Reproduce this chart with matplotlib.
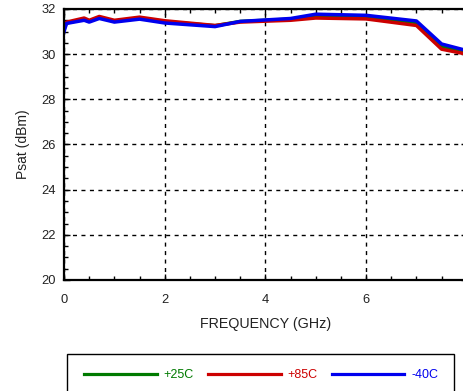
import matplotlib
matplotlib.use("Agg")
import matplotlib.pyplot as plt
from matplotlib.patches import Rectangle
from matplotlib.ticker import MultipleLocator

plt.rcParams['font.family'] = ['Liberation Sans', 'DejaVu Sans']

# === DATA ===
freq_ghz = [0.0, 0.05, 0.4, 0.5, 0.7, 1.0, 1.5, 2.0, 3.0, 3.5, 4.5, 5.0, 6.0, 7.0, 7.5, 8.0]
psat_25c = [31.12, 31.38, 31.55, 31.46, 31.62, 31.46, 31.6, 31.44, 31.26, 31.45, 31.55, 31.7, 31.66, 31.4, 30.35, 30.09]
psat_85c = [31.3, 31.42, 31.6, 31.5, 31.67, 31.5, 31.64, 31.48, 31.27, 31.42, 31.5, 31.6, 31.56, 31.27, 30.22, 30.0]
psat_m40c = [31.0, 31.36, 31.5, 31.42, 31.58, 31.42, 31.55, 31.38, 31.22, 31.45, 31.58, 31.77, 31.72, 31.47, 30.45, 30.16]

series = [("+25C", psat_25c, "#007a00"),
          ("+85C", psat_85c, "#cc0000"),
          ("-40C", psat_m40c, "#0000ee")]

# === Plot ===
fig = plt.figure(figsize=(4.64, 3.91), dpi=100)
ax = fig.add_axes([0.138, 0.284, 0.868, 0.693])

handles = []
for label, vals, col in series:
    h, = ax.plot(freq_ghz, vals, color=col, lw=2.5, label=label, solid_joinstyle="round")
    handles.append(h)

ax.set_xlim(0, 8)
ax.set_ylim(20, 32)
ax.xaxis.set_major_locator(MultipleLocator(2))
ax.xaxis.set_minor_locator(MultipleLocator(0.5))
ax.yaxis.set_major_locator(MultipleLocator(2))
ax.yaxis.set_minor_locator(MultipleLocator(0.5))
ax.tick_params(which="both", direction="in", top=True, right=True, width=1, colors="black")
ax.tick_params(which="major", length=4)
ax.tick_params(which="minor", length=3)
ax.tick_params(axis="x", pad=10, labelsize=9.3, labelcolor="#222222")
ax.tick_params(axis="y", pad=6, labelsize=9.3, labelcolor="#222222")
ax.grid(True, which="major", color="black", lw=1.0, linestyle=(0, (2.9, 3.2)))
for s in ax.spines.values():
    s.set_linewidth(1.6)

ax.set_xlabel("FREQUENCY (GHz)", fontsize=10.3, color="#222222", labelpad=8)
ax.set_ylabel("Psat (dBm)", fontsize=10, color="#222222", labelpad=8)

# legend box (runs off the bottom of the picture)
fig.patches.append(Rectangle((67 / 464, -0.05), (454 - 67) / 464, 0.05 + (391 - 354) / 391,
                             transform=fig.transFigure, fill=False, edgecolor="black", lw=1))
leg = fig.legend(handles=handles, loc="center", bbox_to_anchor=(0.563, 1 - 375 / 391), ncol=3,
                 frameon=False, fontsize=9, handlelength=5.8, handletextpad=0.55,
                 columnspacing=1.15, borderpad=0)
for txt, (_, _, col) in zip(leg.get_texts(), series):
    txt.set_color(col)
for ln in leg.get_lines():
    ln.set_linewidth(2.3)

fig.savefig("out.png", dpi=100)
